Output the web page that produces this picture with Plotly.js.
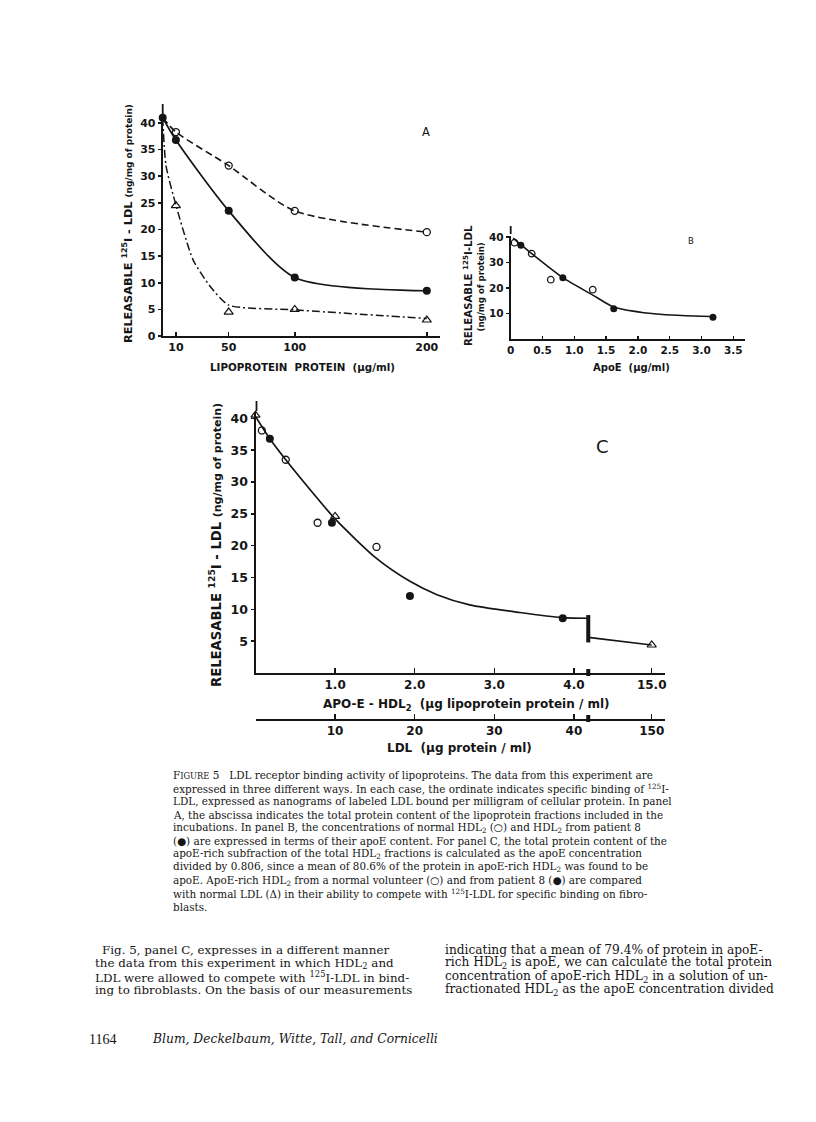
<!DOCTYPE html>
<html><head><meta charset="utf-8">
<script src="https://cdn.plot.ly/plotly-3.0.1.min.js"></script>
<style>html,body{margin:0;padding:0;background:#fff;}#chart{width:816px;height:1122px;}</style>
</head><body><div id="chart"></div>
<script>
// ---------- Panel A data (lipoprotein protein, ug/ml) ----------
const aX = [0, 10, 50, 100, 200];
const aOpenY = [41, 38.3, 32, 23.5, 19.5];      // normal HDL2 (open circles, dashed)
const aFilledY = [41, 36.8, 23.5, 11, 8.5];     // patient 8 HDL2 (filled, solid)
const aTriX = [10, 50, 100, 200];
const aTriY = [24.5, 4.5, 5, 3];                // LDL (triangles)
const aTriCurveX = [0, 2.5, 10, 23, 36, 50, 100, 200];
const aTriCurveY = [41, 32, 24.6, 14.3, 9.3, 5.8, 4.9, 3.3];
const aTicksX = [10, 50, 100, 200];
const aTicksY = [0, 5, 10, 15, 20, 25, 30, 35, 40];

// ---------- Panel B data (ApoE, ug/ml) ----------
const bOpenX = [0, 0.06, 0.33, 0.63, 1.29];
const bOpenY = [40.5, 37.8, 33.5, 23.3, 19.4];
const bFilledX = [0.16, 0.82, 1.62, 3.18];
const bFilledY = [36.8, 24.1, 11.9, 8.6];
const bCurveX = [0.04, 0.16, 0.33, 0.82, 1.29, 1.62, 2.09, 2.61, 3.18];
const bCurveY = [39.6, 37, 33.5, 24.1, 17.3, 12.6, 10.4, 9.4, 8.9];
const bTicksX = [0, 0.5, 1.0, 1.5, 2.0, 2.5, 3.0, 3.5];
const bTickTextX = ["0", "0.5", "1.0", "1.5", "2.0", "2.5", "3.0", "3.5"];
const bTicksY = [10, 20, 30, 40];

// ---------- Panel C data ----------
const cOpenX = [0.08, 0.38, 0.78, 1.52];          // APO-E-HDL2, ug/ml
const cOpenY = [38.1, 33.5, 23.6, 19.8];
const cFilledX = [0.18, 0.96, 1.94, 3.86];
const cFilledY = [36.8, 23.6, 12.1, 8.6];
const cLdlX = [0, 10, 150];                        // LDL, ug protein/ml
const cLdlY = [40.5, 24.6, 4.4];
const cCurveX = [0, 0.18, 0.38, 0.7, 1.0, 1.52, 1.94, 2.28, 2.69, 3.32, 3.86, 4.18];
const cCurveY = [40.3, 36.8, 33.5, 28.6, 24.2, 18.0, 14.4, 12.3, 10.7, 9.5, 8.7, 8.6];
const cTailX = [4.18, 15.0];
const cTailY = [5.6, 4.4];
const cTicksApo = [1.0, 2.0, 3.0, 4.0, 15.0];
const cTickTextApo = ["1.0", "2.0", "3.0", "4.0", "15.0"];
const cTicksLdl = [0, 10, 20, 30, 40, 150];
const cTickTextLdl = ["", "10", "20", "30", "40", "150"];
const cTicksY = [5, 10, 15, 20, 25, 30, 35, 40];

// broken axis in panel C
const BREAK = 4.18, POS15 = 4.977;
const pos = v => v <= BREAK ? v : BREAK + (v - BREAK) * (POS15 - BREAK) / (15 - BREAK);
const posLdl = v => pos(v / 10);

// ---------- text ----------
const captionLines = [
 "F<span style='font-size:8.3px'>IGURE</span> 5   LDL receptor binding activity of lipoproteins. The data from this experiment are",
 "expressed in three different ways. In each case, the ordinate indicates specific binding of <sup>125</sup>I-",
 "LDL, expressed as nanograms of labeled LDL bound per milligram of cellular protein. In panel",
 "A, the abscissa indicates the total protein content of the lipoprotein fractions included in the",
 "incubations. In panel B, the concentrations of normal HDL<sub>2</sub> (○) and HDL<sub>2</sub> from patient 8",
 "(●) are expressed in terms of their apoE content. For panel C, the total protein content of the",
 "apoE-rich subfraction of the total HDL<sub>2</sub> fractions is calculated as the apoE concentration",
 "divided by 0.806, since a mean of 80.6% of the protein in apoE-rich HDL<sub>2</sub> was found to be",
 "apoE. ApoE-rich HDL<sub>2</sub> from a normal volunteer (○) and from patient 8 (●) are compared",
 "with normal LDL (Δ) in their ability to compete with <sup>125</sup>I-LDL for specific binding on fibro-",
 "blasts."
];
const bodyLeft = [
 "Fig. 5, panel C, expresses in a different manner",
 "the data from this experiment in which HDL<sub>2</sub> and",
 "LDL were allowed to compete with <sup>125</sup>I-LDL in bind-",
 "ing to fibroblasts. On the basis of our measurements"
];
const bodyRight = [
 "indicating that a mean of 79.4% of protein in apoE-",
 "rich HDL<sub>2</sub> is apoE, we can calculate the total protein",
 "concentration of apoE-rich HDL<sub>2</sub> in a solution of un-",
 "fractionated HDL<sub>2</sub> as the apoE concentration divided"
];

// ---------- helpers ----------
const W = 816, H = 1122;
const fx = p => p / W, fy = p => 1 - p / H;
const INK = '#151515';
const SANS = 'DejaVu Sans';
const openM = {symbol: 'circle-open', size: 7, color: INK, line: {width: 1.3, color: INK}};
const fillM = {symbol: 'circle', size: 8, color: INK};
const triM = {symbol: 'triangle-up-open', size: 8, color: INK, line: {width: 1.2, color: INK}};

const traces = [
 // Panel A
 {x: aX, y: aOpenY, xaxis: 'x', yaxis: 'y', mode: 'lines', line: {color: INK, width: 1.6, dash: '7px,4px', shape: 'spline', smoothing: 0.7}},
 {x: aX.slice(1), y: aOpenY.slice(1), xaxis: 'x', yaxis: 'y', mode: 'markers', marker: openM},
 {x: aX, y: aFilledY, xaxis: 'x', yaxis: 'y', mode: 'lines+markers', line: {color: INK, width: 1.7, shape: 'spline', smoothing: 0.7}, marker: fillM, cliponaxis: false},
 {x: aTriCurveX, y: aTriCurveY, xaxis: 'x', yaxis: 'y', mode: 'lines', line: {color: INK, width: 1.5, dash: '8px,3px,2px,3px', shape: 'spline', smoothing: 0.6}},
 {x: aTriX, y: aTriY, xaxis: 'x', yaxis: 'y', mode: 'markers', marker: triM},
 // Panel B
 {x: bCurveX, y: bCurveY, xaxis: 'x2', yaxis: 'y2', mode: 'lines', line: {color: INK, width: 1.6, shape: 'spline', smoothing: 0.7}},
 {x: bOpenX, y: bOpenY, xaxis: 'x2', yaxis: 'y2', mode: 'markers', marker: Object.assign({}, openM, {size: 6.5}), cliponaxis: false},
 {x: bFilledX, y: bFilledY, xaxis: 'x2', yaxis: 'y2', mode: 'markers', marker: Object.assign({}, fillM, {size: 7})},
 // Panel C
 {x: cCurveX.map(pos), y: cCurveY, xaxis: 'x3', yaxis: 'y3', mode: 'lines', line: {color: INK, width: 1.7, shape: 'spline', smoothing: 0.7}},
 {x: cTailX.map(pos), y: cTailY, xaxis: 'x3', yaxis: 'y3', mode: 'lines', line: {color: INK, width: 1.7}},
 {x: cOpenX.map(pos), y: cOpenY, xaxis: 'x3', yaxis: 'y3', mode: 'markers', marker: openM},
 {x: cFilledX.map(pos), y: cFilledY, xaxis: 'x3', yaxis: 'y3', mode: 'markers', marker: fillM},
 {x: cLdlX.map(posLdl), y: cLdlY, xaxis: 'x3', yaxis: 'y3', mode: 'markers', marker: triM, cliponaxis: false},
 // invisible trace so that the LDL axis is drawn
 {x: cTicksLdl.map(posLdl), y: cTicksLdl.map(() => 0), xaxis: 'x4', yaxis: 'y4', mode: 'markers', marker: {opacity: 0}, hoverinfo: 'skip'}
];

const axBase = {showline: true, linecolor: INK, linewidth: 2, showgrid: false, zeroline: false, color: INK, tickcolor: INK, tickwidth: 1.5};
const layout = {
 width: W, height: H, margin: {l: 0, r: 0, t: 0, b: 0},
 paper_bgcolor: '#fff', plot_bgcolor: 'rgba(0,0,0,0)', showlegend: false,
 font: {family: SANS, color: INK},
 xaxis: Object.assign({}, axBase, {domain: [fx(162.7), fx(440)], range: [0, 210], anchor: 'y', tickvals: aTicksX, ticks: 'inside', ticklen: 4, tickfont: {size: 11, family: SANS, weight: 'bold'}}),
 yaxis: Object.assign({}, axBase, {domain: [fy(336), fy(115)], range: [0, 41.5], anchor: 'x', tickvals: aTicksY, ticks: 'outside', ticklen: 3, tickfont: {size: 11, family: SANS, weight: 'bold'}}),
 xaxis2: Object.assign({}, axBase, {domain: [fx(510.7), fx(745)], range: [0, 3.684], anchor: 'y2', tickvals: bTicksX, ticktext: bTickTextX, ticks: 'inside', ticklen: 3, tickfont: {size: 10.5, family: SANS, weight: 'bold'}}),
 yaxis2: Object.assign({}, axBase, {domain: [fy(339.3), fy(236)], range: [0, 40.4], anchor: 'x2', tickvals: bTicksY, ticks: 'outside', ticklen: 3, tickfont: {size: 10.5, family: SANS, weight: 'bold'}}),
 xaxis3: Object.assign({}, axBase, {domain: [fx(255.5), fx(665)], range: [0, 5.144], anchor: 'y3', tickvals: cTicksApo.map(pos), ticktext: cTickTextApo, ticks: 'inside', ticklen: 5, tickfont: {size: 12, family: SANS, weight: 'bold'}}),
 yaxis3: Object.assign({}, axBase, {domain: [fy(673), fy(412)], range: [0, 41.0], anchor: 'x3', tickvals: cTicksY, ticks: 'outside', ticklen: 3, tickfont: {size: 12.5, family: SANS, weight: 'bold'}}),
 xaxis4: Object.assign({}, axBase, {domain: [fx(255.5), fx(665)], range: [0, 5.144], anchor: 'y4', tickvals: cTicksLdl.map(posLdl), ticktext: cTickTextLdl, ticks: 'inside', ticklen: 5, tickfont: {size: 12, family: SANS, weight: 'bold'}}),
 yaxis4: {domain: [fy(719), fy(717)], range: [0, 1], anchor: 'x4', visible: false},
 shapes: [],
 annotations: []
};

const S = layout.shapes, A = layout.annotations;
// short marks above the 40 level on each ordinate
S.push({type: 'line', xref: 'paper', yref: 'paper', x0: fx(162.7), x1: fx(162.7), y0: fy(114), y1: fy(104), line: {color: INK, width: 1.8}});
S.push({type: 'line', xref: 'paper', yref: 'paper', x0: fx(510.7), x1: fx(510.7), y0: fy(234), y1: fy(226), line: {color: INK, width: 1.8}});
S.push({type: 'line', xref: 'paper', yref: 'paper', x0: fx(256.5), x1: fx(256.5), y0: fy(411), y1: fy(401), line: {color: INK, width: 1.8}});
// axis break in panel C
S.push({type: 'line', xref: 'x3', yref: 'y3', x0: BREAK, x1: BREAK, y0: 4.8, y1: 9.1, line: {color: INK, width: 4}});
S.push({type: 'rect', xref: 'x3', yref: 'paper', x0: BREAK - 0.025, x1: BREAK + 0.025, y0: fy(676), y1: fy(669), fillcolor: INK, line: {width: 0}});
S.push({type: 'rect', xref: 'x4', yref: 'paper', x0: BREAK - 0.025, x1: BREAK + 0.025, y0: fy(722), y1: fy(715), fillcolor: INK, line: {width: 0}});

function txt(t, px, py, o) {
 A.push(Object.assign({text: t, xref: 'paper', yref: 'paper', x: fx(px), y: fy(py), showarrow: false, xanchor: 'center', yanchor: 'middle', font: {family: SANS, size: 11, color: INK}}, o || {}));
}
const bold = (s, f) => ({family: f || SANS, size: s, color: INK, weight: 'bold'});

// panel letters
txt('A', 426, 131.5, {font: {family: SANS, size: 11.5, color: INK}});
txt('B', 690.7, 241, {font: {family: SANS, size: 8.5, color: INK}});
txt('C', 602.7, 446.7, {font: {family: SANS, size: 18, color: INK}});

// axis titles
txt('LIPOPROTEIN  PROTEIN  (μg/ml)', 302, 367, {font: bold(10.3)});
txt("RELEASABLE <sup>125</sup>I - LDL <span style='font-size:9px'>(ng/mg of protein)</span>", 127, 224, {textangle: -90, font: bold(11.3)});
txt("RELEASABLE <sup>125</sup>I-LDL", 467, 286, {textangle: -90, font: bold(10.2)});
txt("(ng/mg of protein)", 480.5, 287, {textangle: -90, font: bold(8.6)});
txt('ApoE  (μg/ml)', 631, 367, {font: bold(10)});
txt("RELEASABLE <sup>125</sup>I - LDL <span style='font-size:11px'>(ng/mg of protein)</span>", 215, 545, {textangle: -90, font: bold(13.2)});
txt('APO-E - HDL<sub>2</sub>  (μg lipoprotein protein / ml)', 466, 704.5, {font: bold(12)});
txt('LDL  (μg protein / ml)', 459.5, 747.5, {font: bold(12)});

// caption
const SERIF = 'DejaVu Serif';
captionLines.forEach((l, i) => txt(l, 171, 775 + i * 13.2, {xanchor: 'left', font: {family: SERIF, size: 10.4, color: INK}}));
// body text
bodyLeft.forEach((l, i) => txt(l, i === 0 ? 100 : 93, 950 + i * 13.3, {xanchor: 'left', font: {family: SERIF, size: 11.9, color: INK}}));
bodyRight.forEach((l, i) => txt(l, 443, 950 + i * 13.3, {xanchor: 'left', font: {family: SERIF, size: 12.2, color: INK}}));
// footer
txt('1164', 87, 1039, {xanchor: 'left', font: {family: 'Liberation Serif', size: 14, color: INK}});
txt('<i>Blum, Deckelbaum, Witte, Tall, and Cornicelli</i>', 150, 1039, {xanchor: 'left', font: {family: SERIF, size: 12.3, color: INK}});

Plotly.newPlot('chart', traces, layout, {staticPlot: true, displayModeBar: false});
</script></body></html>
